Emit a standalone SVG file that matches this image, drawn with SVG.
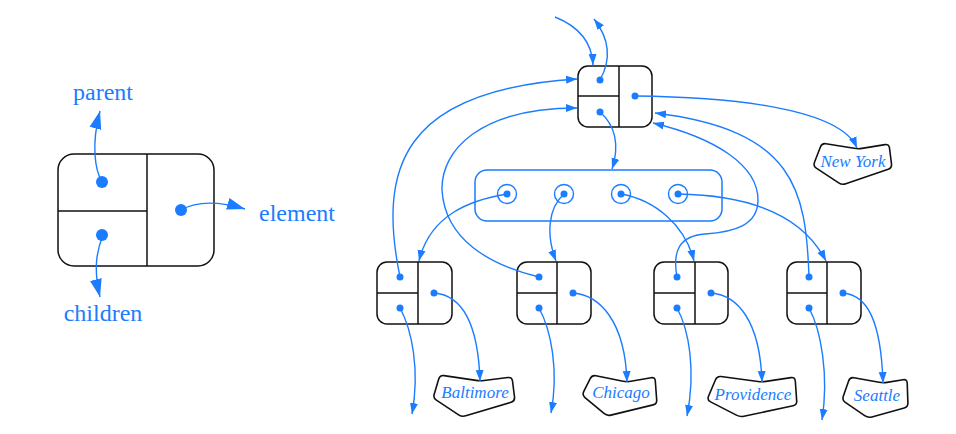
<svg xmlns="http://www.w3.org/2000/svg" width="956" height="434" viewBox="0 0 956 434">
<defs>
<marker id="ah" markerUnits="userSpaceOnUse" markerWidth="12" markerHeight="9" refX="11" refY="4" orient="auto" viewBox="0 0 12 8">
<path d="M0,0 L11,4 L0,8 Z" fill="#1b7cff"/>
</marker>
<marker id="ahL" markerUnits="userSpaceOnUse" markerWidth="19" markerHeight="13" refX="18" refY="6" orient="auto" viewBox="0 0 19 12">
<path d="M0,0 L18,6 L0,12 Z" fill="#1b7cff"/>
</marker>
<style>
.box{fill:#fff;stroke:#111;stroke-width:1.5}
.div{stroke:#111;stroke-width:1.5;fill:none}
.dot{fill:#1b7cff}
.c{fill:none;stroke:#1b7cff;stroke-width:1.4;marker-end:url(#ah)}
.cL{fill:none;stroke:#1b7cff;stroke-width:1.4;marker-end:url(#ahL)}
.ring{fill:none;stroke:#1b7cff;stroke-width:1.4}
.blob{fill:#fff;stroke:#111;stroke-width:1.6;stroke-linejoin:round}
.lbl{font-family:"Liberation Serif","Times New Roman",serif;font-size:24px;fill:#1b7cff}
.city{font-family:"Liberation Serif","Times New Roman",serif;font-style:italic;font-size:17px;fill:#1b7cff;text-anchor:middle}
</style>
</defs>

<g id="legend">
<rect class="box" x="58" y="154" width="156" height="112" rx="16"/>
<line class="div" x1="147" y1="154" x2="147" y2="266"/>
<line class="div" x1="58" y1="211" x2="147" y2="211"/>
<circle class="dot" cx="102" cy="182" r="6"/>
<circle class="dot" cx="102" cy="235" r="6"/>
<circle class="dot" cx="181" cy="210" r="6"/>
<text class="lbl" x="103" y="100" text-anchor="middle">parent</text>
<text class="lbl" x="259" y="221">element</text>
<text class="lbl" x="103" y="321" text-anchor="middle">children</text>
</g>

<g id="root">
<rect class="box" x="578" y="66" width="74" height="61" rx="10"/>
<line class="div" x1="619" y1="66" x2="619" y2="127"/>
<line class="div" x1="578" y1="96" x2="619" y2="96"/>
<circle class="dot" cx="600" cy="80" r="3.5"/>
<circle class="dot" cx="600" cy="112" r="3.5"/>
<circle class="dot" cx="635" cy="96" r="3.5"/>
</g>

<g id="childlist">
<rect x="475" y="170" width="247" height="51" rx="12" fill="none" stroke="#1b7cff" stroke-width="1.5"/>
<circle class="ring" cx="507" cy="194" r="9.5"/><circle class="dot" cx="507" cy="194" r="3.5"/>
<circle class="ring" cx="564" cy="194" r="9.5"/><circle class="dot" cx="564" cy="194" r="3.5"/>
<circle class="ring" cx="621" cy="194" r="9.5"/><circle class="dot" cx="621" cy="194" r="3.5"/>
<circle class="ring" cx="678" cy="194" r="9.5"/><circle class="dot" cx="678" cy="194" r="3.5"/>
</g>

<g id="node-baltimore">
<rect class="box" x="377" y="262" width="75" height="62" rx="10"/>
<line class="div" x1="418" y1="262" x2="418" y2="324"/>
<line class="div" x1="377" y1="293" x2="418" y2="293"/>
<circle class="dot" cx="400" cy="277" r="3.5"/>
<circle class="dot" cx="400" cy="308" r="3.5"/>
<circle class="dot" cx="434" cy="293" r="3.5"/>
</g>
<g id="node-chicago">
<rect class="box" x="517" y="262" width="74" height="62" rx="10"/>
<line class="div" x1="557" y1="262" x2="557" y2="324"/>
<line class="div" x1="517" y1="293" x2="557" y2="293"/>
<circle class="dot" cx="539" cy="277" r="3.5"/>
<circle class="dot" cx="539" cy="308" r="3.5"/>
<circle class="dot" cx="573" cy="293" r="3.5"/>
</g>
<g id="node-providence">
<rect class="box" x="654" y="262" width="74" height="62" rx="10"/>
<line class="div" x1="695" y1="262" x2="695" y2="324"/>
<line class="div" x1="654" y1="293" x2="695" y2="293"/>
<circle class="dot" cx="677" cy="277" r="3.5"/>
<circle class="dot" cx="677" cy="308" r="3.5"/>
<circle class="dot" cx="711" cy="293" r="3.5"/>
</g>
<g id="node-seattle">
<rect class="box" x="787" y="262" width="74" height="62" rx="10"/>
<line class="div" x1="827" y1="262" x2="827" y2="324"/>
<line class="div" x1="787" y1="293" x2="827" y2="293"/>
<circle class="dot" cx="809" cy="277" r="3.5"/>
<circle class="dot" cx="809" cy="308" r="3.5"/>
<circle class="dot" cx="843" cy="293" r="3.5"/>
</g>

<g id="elem-newyork">
<path class="blob" d="M825.9,143.7 L854.1,148.3 Q858,149 862,148.4 L885,144.6 Q889,144 889.5,148 L891.5,164 Q892,168 888.2,169.3 L845.8,183.7 Q842,185 838.7,182.8 L816.3,168.2 Q813,166 814.5,162.3 L820.5,146.7 Q822,143 825.9,143.7 Z"/>
<text class="city" x="853" y="167">New York</text>
</g>
<g id="elem-baltimore">
<path class="blob" d="M444,375.6 L476,380.4 Q480,381 484,380.5 L508,377.5 Q512,377 512.5,381 L514.5,397 Q515,401 511.2,402.2 L465.8,415.8 Q462,417 458.6,414.8 L436.4,400.2 Q433,398 434.2,394.2 L438.8,378.8 Q440,375 444,375.6 Z"/>
<text class="city" x="475" y="398">Baltimore</text>
</g>
<g id="elem-chicago">
<path class="blob" d="M595.9,375.8 L623.1,381.2 Q627,382 630.9,381.3 L651.1,377.7 Q655,377 655.3,381 L656.7,400 Q657,404 653.1,404.9 L610.9,415.1 Q607,416 604,413.4 L585,397.6 Q582,395 583.8,391.4 L590.2,378.6 Q592,375 595.9,375.8 Z"/>
<text class="city" x="621" y="398">Chicago</text>
</g>
<g id="elem-providence">
<path class="blob" d="M721,376.5 L758,381.5 Q762,382 766,381.4 L791,377.6 Q795,377 795.3,381 L796.7,401 Q797,405 793.1,405.8 L743.9,416.2 Q740,417 736.4,415.1 L710.6,401.9 Q707,400 708.5,396.3 L715.5,379.7 Q717,376 721,376.5 Z"/>
<text class="city" x="753" y="400">Providence</text>
</g>
<g id="elem-seattle">
<path class="blob" d="M853.9,377.7 L879.1,382.3 Q883,383 887,382.4 L903,379.7 Q907,379 907.2,383 L907.9,403 Q908,407 904.2,408 L871.9,417 Q868,418 864.7,415.7 L845.3,402.3 Q842,400 843.3,396.2 L848.7,380.8 Q850,377 853.9,377.7 Z"/>
<text class="city" x="877" y="401">Seattle</text>
</g>

<g id="connectors">
<path class="cL" d="M102,182 C95,170 91,145 100,111"/>
<path class="cL" d="M103,235 C97,250 93,268 100,297"/>
<path class="cL" d="M181,210 C195,202 215,200 245,209"/>

<path class="c" d="M555,17 C575,25 592,40 593,65"/>
<path class="c" d="M600,80 C610,62 612,42 594,19"/>
<path class="c" d="M600,112 C615,125 620,145 612,169"/>
<path class="c" d="M635,96 C730,97 840,108 857,148"/>

<path class="c" d="M507,194 C470,200 430,215 419,261"/>
<path class="c" d="M564,194 C548,208 546,235 556,261"/>
<path class="c" d="M621,194 C655,200 685,225 694,261"/>
<path class="c" d="M678,194 C740,195 800,210 826,261"/>

<path class="c" d="M400,277 C378,170 400,90 577,79"/>
<path class="c" d="M539,277 C490,265 445,240 442,190 C441,150 480,108 577,108"/>
<path class="c" d="M677,277 C672,250 680,236 705,234 C735,232 758,225 758,200 C758,165 715,138 653,123"/>
<path class="c" d="M809,277 C806,190 795,130 655,113"/>

<path class="c" d="M434,293 C460,295 478,320 480,381"/>
<path class="c" d="M573,293 C599,295 625,320 627,382"/>
<path class="c" d="M711,293 C737,295 760,320 762,382"/>
<path class="c" d="M843,293 C867,295 881,320 883,383"/>

<path class="c" d="M400,308 C412,330 420,370 412,414"/>
<path class="c" d="M539,308 C551,330 559,370 551,413"/>
<path class="c" d="M677,308 C689,330 696,370 687,416"/>
<path class="c" d="M809,308 C821,330 829,375 822,420"/>
</g>
</svg>
